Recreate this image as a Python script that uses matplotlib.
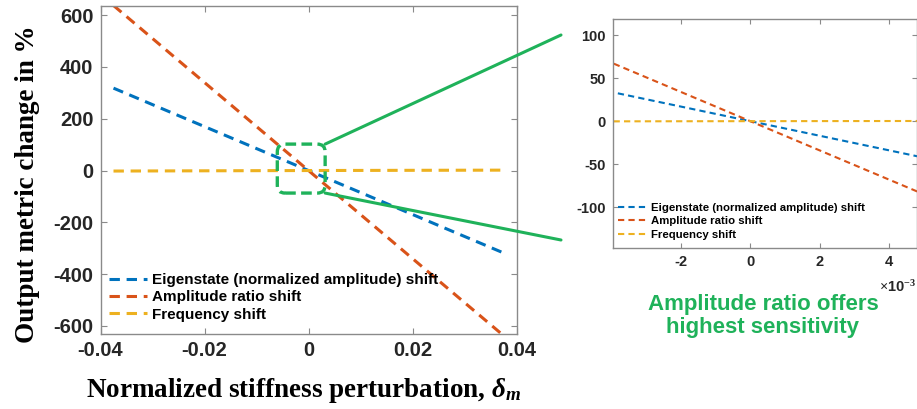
import numpy as np
import matplotlib
matplotlib.use("Agg")
import matplotlib.pyplot as plt
from matplotlib.patches import FancyBboxPatch, ConnectionPatch
from matplotlib.ticker import FuncFormatter

plt.rcParams['font.family'] = ['Liberation Sans', 'DejaVu Sans']
plt.rcParams['axes.unicode_minus'] = False
plt.rcParams['mathtext.fontset'] = 'custom'
plt.rcParams['mathtext.it'] = 'Liberation Serif:bold:italic'
plt.rcParams['mathtext.rm'] = 'Liberation Serif:bold'

# data (lines are straight)
delta_m = [-0.0375, 0.0, 0.0375]
eigenstate = [318, 0, -318]
amp_ratio = [637, 0, -637]
freq_shift = [-2, 0, 1.5]

labels = ['Eigenstate (normalized amplitude) shift', 'Amplitude ratio shift', 'Frequency shift']
colors = ['#0072BD', '#D95319', '#EDB120']
series = [eigenstate, amp_ratio, freq_shift]

green = '#1fb25a'
spine_col = '#8a8a8a'
W, H = 917, 409

fig = plt.figure(figsize=(W / 100, H / 100), dpi=100)
ax = fig.add_axes([100.5 / W, 1 - 334 / H, 416 / W, 328.5 / H])
ins = fig.add_axes([612.7 / W, 1 - 248.3 / H, (W - 612.7) / W, 229.3 / H])

for y, c, lab in zip(series, colors, labels):
    ax.plot(delta_m, y, color=c, lw=2.2, dashes=(3.4, 2.2), label=lab)
    ins.plot(delta_m, y, color=c, lw=1.5, dashes=(3.0, 2.0), label=lab)

ax.set_xlim(-0.04, 0.04)
ax.set_ylim(-631, 637)
ax.set_xticks([-0.04, -0.02, 0, 0.02, 0.04])
ax.set_yticks(np.arange(-600, 601, 200))
ax.xaxis.set_major_formatter(FuncFormatter(lambda v, p: '%g' % round(v, 4)))

ins.set_xlim(-0.00396, 0.0048)
ins.set_ylim(-147.6, 118.6)
ins.set_xticks([-0.002, 0, 0.002, 0.004])
ins.set_yticks([-100, -50, 0, 50, 100])
ins.xaxis.set_major_formatter(FuncFormatter(lambda v, p: '%g' % round(v * 1e3, 3)))

for a, fs, tl in [(ax, 14.5, 4), (ins, 10.5, 3.5)]:
    a.tick_params(direction='in', top=True, right=True, length=tl, width=0.8,
                  color=spine_col, labelsize=fs, labelcolor='#262626', pad=5)
    for t in a.get_xticklabels() + a.get_yticklabels():
        t.set_fontweight('bold')
    for s in a.spines.values():
        s.set_color(spine_col)
        s.set_linewidth(1.0)

ax.set_xlabel(r'Normalized stiffness perturbation, $\delta_m$', family='Liberation Serif',
              fontweight='bold', fontsize=19.5)
ax.xaxis.set_label_coords(0.487, -0.128)
ax.set_ylabel('Output metric change in %', family='Liberation Serif',
              fontweight='bold', fontsize=19.5)
ax.yaxis.set_label_coords(-0.145, 0.455)

ax.legend(loc='lower left', bbox_to_anchor=(-0.01, 0.0), frameon=False,
          prop={'weight': 'bold', 'size': 11}, handlelength=2.5, handletextpad=0.35,
          labelspacing=0.22, borderpad=0.2, borderaxespad=0.6)
ins.legend(loc='lower left', bbox_to_anchor=(-0.01, 0.0), frameon=False,
           prop={'weight': 'bold', 'size': 8.2}, handlelength=2.6, handletextpad=0.3,
           labelspacing=0.3, borderpad=0.2, borderaxespad=0.55)

fig.text(916 / W, 1 - 287 / H, r'$\times$10$^{-3}$', fontsize=10.5, fontweight='bold',
         va='center', ha='right', color='#262626')

# zoom box and connectors
bx0, bx1, by0, by1 = -0.0060, 0.0032, -87, 102
ax.add_patch(FancyBboxPatch((bx0, by0), bx1 - bx0, by1 - by0,
                            boxstyle='round,pad=0,rounding_size=0.0015',
                            mutation_aspect=20063, fill=False, ec=green, lw=2.4,
                            ls=(0, (3.2, 1.6)), zorder=5, clip_on=False))
for yb, yf in [(by1, 35), (by0, 240)]:
    con = ConnectionPatch(xyA=(bx1, yb), coordsA=ax.transData,
                          xyB=(561 / W, 1 - yf / H), coordsB=fig.transFigure,
                          color=green, lw=2.2)
    fig.add_artist(con)

fig.text(763 / W, 1 - 316 / H, 'Amplitude ratio offers\nhighest sensitivity', color=green,
         fontsize=16, fontweight='bold', ha='center', va='center', linespacing=1.12)

fig.savefig('out.png', dpi=100)
